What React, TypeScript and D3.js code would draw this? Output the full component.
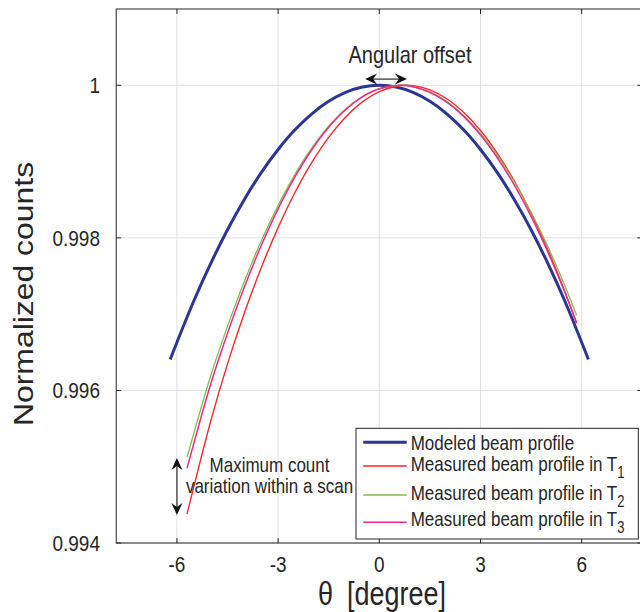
import React from "react";
import * as d3 from "d3";

const W = 640;
const H = 612;

// Data
const thetaModel = [-6.2, -5.5, -5, -4.5, -4, -3.5, -3, -2.5, -2, -1.5, -1, -0.5, 0, 0.5, 1, 1.5, 2, 2.5, 3, 3.5, 4, 4.5, 5, 5.5, 6.2];
const modeled = [0.996406, 0.997172, 0.997662, 0.998107, 0.998504, 0.998855, 0.999158, 0.999416, 0.999626, 0.99979, 0.999907, 0.999977, 1.0, 0.999977, 0.999907, 0.99979, 0.999626, 0.999416, 0.999158, 0.998855, 0.998504, 0.998107, 0.997662, 0.997172, 0.996406];

const thetaT1 = [-5.7, -5, -4.5, -4, -3.5, -3, -2.5, -2, -1.5, -1, -0.5, 0, 0.5, 0.8, 1, 1.5, 2, 2.5, 3, 3.5, 4, 4.5, 5, 5.5, 5.85];
const measuredT1 = [0.99438, 0.995593, 0.996348, 0.997016, 0.997608, 0.998134, 0.998594, 0.998989, 0.999318, 0.999582, 0.999782, 0.999917, 0.999988, 1.0, 0.999995, 0.99994, 0.999824, 0.999646, 0.999408, 0.999108, 0.998747, 0.998324, 0.997841, 0.997296, 0.996879];

const thetaT = [-5.7, -5, -4.5, -4, -3.5, -3, -2.5, -2, -1.5, -1, -0.5, 0, 0.6, 1, 1.5, 2, 2.5, 3, 3.5, 4, 4.5, 5, 5.5, 5.85];
const measuredT2 = [0.995122, 0.99619, 0.99684, 0.997429, 0.997958, 0.998425, 0.998832, 0.999179, 0.999464, 0.999689, 0.999853, 0.999956, 1.0, 0.999983, 0.999911, 0.999786, 0.999605, 0.99937, 0.99908, 0.998735, 0.998336, 0.997882, 0.997373, 0.996985];
const measuredT3 = [0.994978, 0.99608, 0.996749, 0.997355, 0.997899, 0.99838, 0.998799, 0.999155, 0.999449, 0.99968, 0.999849, 0.999955, 1.0, 0.999982, 0.999908, 0.999779, 0.999592, 0.999349, 0.99905, 0.998694, 0.998281, 0.997812, 0.997287, 0.996885];

const xTicks = [-6, -3, 0, 3, 6];
const xTickLabels = ["-6", "-3", "0", "3", "6"];
const yTicks = [0.994, 0.996, 0.998, 1];
const yTickLabels = ["0.994", "0.996", "0.998", "1"];

const legendLabels = ["Modeled beam profile", "Measured beam profile in T", "Measured beam profile in T", "Measured beam profile in T"];
const legendSubs = ["", "1", "2", "3"];

// annotation anchors in data units
const offsetArrow = { x0: -0.42, x1: 0.82, y: 1.000081 };
const variationArrow = { x: -6, y0: 0.995114, y1: 0.994367 };

const COLORS = ["#2c3594", "#f52a2a", "#7fbf4a", "#ee2a8a"];
const WIDTHS = [3, 1.4, 1.3, 1.5];
const FONT = "'Liberation Sans', Arial, Helvetica, sans-serif";
const SY = 1.2; // vertical stretch of text in the reference

function T(props: { x: number; y: number; size: number; anchor?: string; children: React.ReactNode }) {
  const { x, y, size, anchor, children } = props;
  return (
    <text transform={`translate(${x},${y}) scale(1,${SY})`} x={0} y={0} fontSize={size} textAnchor={anchor || "start"} fill="#262626">
      {children}
    </text>
  );
}

export default function App() {
  const x = d3.scaleLinear().domain([-7.8, 7.8]).range([116.2, 642.4]);
  const y = d3.scaleLinear().domain([0.994, 1.001]).range([543, 9]);
  const [x0, x1] = x.range();
  const [yb, yt] = y.range();

  const line = d3
    .line<[number, number]>()
    .x((d) => x(d[0]))
    .y((d) => y(d[1]))
    .curve(d3.curveCatmullRom.alpha(0.5));

  const series: [number[], number[]][] = [
    [thetaModel, modeled],
    [thetaT1, measuredT1],
    [thetaT, measuredT2],
    [thetaT, measuredT3],
  ];

  const tick = 5;

  const head = (tx: number, ty: number, dx: number, dy: number) => {
    const L = 12, Wd = 5.5, N = 8;
    const px = -dy, py = dx;
    const bx = tx - dx * L, by = ty - dy * L;
    const nx = tx - dx * N, ny = ty - dy * N;
    return `M${tx},${ty}L${bx + px * Wd},${by + py * Wd}L${nx},${ny}L${bx - px * Wd},${by - py * Wd}Z`;
  };

  const ax0 = x(offsetArrow.x0), ax1 = x(offsetArrow.x1), ay = y(offsetArrow.y);
  const vx = x(variationArrow.x), vy0 = y(variationArrow.y0), vy1 = y(variationArrow.y1);

  const lgX = 356, lgY = 428.3, lgW = 282.3, lgH = 110.7;
  const rowLineY = [442.3, 466, 495, 522.3];
  const rowTextY = [449.5, 471, 499.5, 526];

  return (
    <svg width={W} height={H} style={{ position: "absolute", left: 0, top: 0, background: "#fff" }} fontFamily={FONT}>
      <rect x={0} y={0} width={W} height={H} fill="#fff" />
      <defs>
        <clipPath id="plot">
          <rect x={x0} y={yt} width={x1 - x0} height={yb - yt} />
        </clipPath>
      </defs>
      <g stroke="#dfe1e8" strokeWidth={1}>
        {xTicks.map((t) => (
          <line key={"gx" + t} x1={x(t)} x2={x(t)} y1={yt} y2={yb} />
        ))}
        {yTicks.map((t) => (
          <line key={"gy" + t} x1={x0} x2={x1} y1={y(t)} y2={y(t)} />
        ))}
      </g>
      <g clipPath="url(#plot)" fill="none">
        {series.map(([xs, ys], i) => (
          <path
            key={i}
            d={line(xs.map((v, j) => [v, ys[j]] as [number, number])) || ""}
            stroke={COLORS[i]}
            strokeWidth={WIDTHS[i]}
            strokeLinejoin="round"
          />
        ))}
      </g>
      <g stroke="#262626" strokeWidth={1} fill="none">
        <rect x={x0} y={yt} width={x1 - x0} height={yb - yt} />
        {xTicks.map((t) => (
          <g key={"tx" + t}>
            <line x1={x(t)} x2={x(t)} y1={yb} y2={yb - tick} />
            <line x1={x(t)} x2={x(t)} y1={yt} y2={yt + tick} />
          </g>
        ))}
        {yTicks.map((t) => (
          <g key={"ty" + t}>
            <line x1={x0} x2={x0 + tick} y1={y(t)} y2={y(t)} />
            <line x1={x1} x2={x1 - tick} y1={y(t)} y2={y(t)} />
          </g>
        ))}
      </g>
      {xTicks.map((t, i) => (
        <T key={"lx" + t} x={x(t)} y={572} size={19} anchor="middle">
          {xTickLabels[i]}
        </T>
      ))}
      {yTicks.map((t, i) => (
        <T key={"ly" + t} x={100} y={y(t) + 8} size={19} anchor="end">
          {yTickLabels[i]}
        </T>
      ))}
      <T x={318} y={605} size={27}>θ</T>
      <T x={347} y={605} size={27}>[degree]</T>
      <text transform={`translate(33,294) rotate(-90) scale(${SY * 0.985},1)`} textAnchor="middle" fontSize={27} fill="#262626">
        Normalized counts
      </text>
      <T x={410} y={63} size={20} anchor="middle">Angular offset</T>
      <line x1={ax0 + 8} x2={ax1 - 8} y1={ay} y2={ay} stroke="#555" strokeWidth={1.5} />
      <path d={head(ax0, ay, -1, 0)} fill="#111" />
      <path d={head(ax1, ay, 1, 0)} fill="#111" />
      <line x1={vx} x2={vx} y1={vy0 + 8} y2={vy1 - 8} stroke="#555" strokeWidth={1.5} />
      <path d={head(vx, vy0, 0, -1)} fill="#111" />
      <path d={head(vx, vy1, 0, 1)} fill="#111" />
      <T x={269.5} y={471.5} size={17} anchor="middle">Maximum count</T>
      <T x={269.5} y={493} size={17} anchor="middle">variation within a scan</T>
      <rect x={lgX} y={lgY} width={lgW} height={lgH} fill="#fff" stroke="#262626" strokeWidth={1} />
      {legendLabels.map((lab, i) => (
        <g key={"lg" + i}>
          <line x1={363.3} x2={406.7} y1={rowLineY[i]} y2={rowLineY[i]} stroke={COLORS[i]} strokeWidth={WIDTHS[i]} />
          <T x={410.7} y={rowTextY[i]} size={17}>
            {lab}
            {legendSubs[i] && (
              <tspan dy={6} fontSize={13}>
                {legendSubs[i]}
              </tspan>
            )}
          </T>
        </g>
      ))}
    </svg>
  );
}
